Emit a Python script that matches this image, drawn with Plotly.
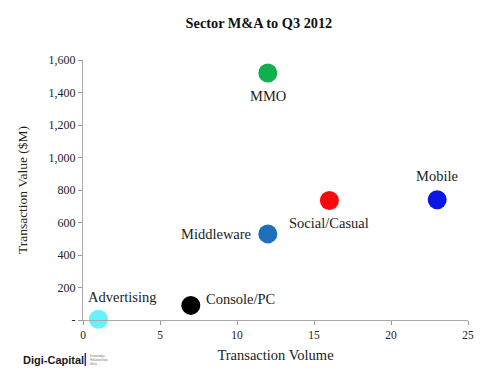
import plotly.graph_objects as go

sectors = ["MMO", "Mobile", "Social/Casual", "Middleware", "Console/PC", "Advertising"]
volume = [12, 23, 16, 12, 7, 1]
value = [1520, 740, 735, 530, 90, 5]
colors = ["#12b04c", "#0b16e6", "#f80a0a", "#1f6fbd", "#000000", "#66f2f8"]
label_pos = ["bottom center", "top center", "bottom center2", "middle left", "middle right", "top right"]

x_ticks = [0, 5, 10, 15, 20, 25]
y_ticks = [0, 200, 400, 600, 800, 1000, 1200, 1400, 1600]
y_tick_text = ["-", "200", "400", "600", "800", "1,000", "1,200", "1,400", "1,600"]

serif = "Liberation Serif"

fig = go.Figure()
fig.add_trace(go.Scatter(
    x=volume, y=value, mode="markers",
    marker=dict(size=19, color=colors, line=dict(width=0)),
    showlegend=False, cliponaxis=False, hoverinfo="skip",
))

offsets = {
    "bottom center": dict(xshift=0, yshift=-23, xanchor="center"),
    "bottom center2": dict(xshift=0, yshift=-22, xanchor="center"),
    "top center": dict(xshift=0, yshift=24, xanchor="center"),
    "middle left": dict(xshift=-15, yshift=0, xanchor="right"),
    "middle right": dict(xshift=13, yshift=6, xanchor="left"),
    "top right": dict(xshift=-12, yshift=22, xanchor="left"),
}
for s, xv, yv, p in zip(sectors, volume, value, label_pos):
    o = offsets[p]
    fig.add_annotation(x=xv, y=yv, xref="x", yref="y", text=s, showarrow=False,
                       xshift=o["xshift"], yshift=o["yshift"], xanchor=o["xanchor"],
                       yanchor="middle", font=dict(family=serif, size=14.5, color="#222"))

# Digi-Capital logo text
fig.add_annotation(xref="paper", yref="paper", x=-0.16, y=-0.154, xanchor="left", yanchor="middle",
                   text="<b>Digi-Capital</b>", showarrow=False,
                   font=dict(family="Liberation Sans", size=11, color="#1a1a1a"))
fig.add_shape(type="line", xref="paper", yref="paper", x0=0.006, x1=0.006, y0=-0.177, y1=-0.127,
              line=dict(color="#2a2ad0", width=1.5))
fig.add_annotation(xref="paper", yref="paper", x=0.012, y=-0.152, xanchor="left", yanchor="middle",
                   text="Knowledge<br>Relationships<br>Ideas", showarrow=False, align="left",
                   font=dict(family="Liberation Sans", size=3, color="#777"))

fig.update_layout(
    width=492, height=367,
    margin=dict(l=75, r=32, t=52, b=55),
    paper_bgcolor="white", plot_bgcolor="white",
    title=dict(text="<b>Sector M&A to Q3 2012</b>", x=0.51, y=0.96, xanchor="center", yanchor="middle",
               font=dict(family=serif, size=14.3, color="#111")),
    xaxis=dict(range=[0, 25], tickvals=x_ticks, ticks="outside", ticklen=4, tickcolor="#999",
               showline=True, linecolor="#aaa", showgrid=False, zeroline=False, automargin=False,
               tickfont=dict(family=serif, size=11.5, color="#222"),
               title=dict(text="Transaction Volume", font=dict(family=serif, size=14.5, color="#222"), standoff=10)),
    yaxis=dict(range=[0, 1600], tickvals=y_ticks, ticktext=y_tick_text, ticks="outside", ticklen=4,
               tickcolor="#999", showline=True, linecolor="#aaa", showgrid=False, zeroline=False, automargin=False,
               tickfont=dict(family=serif, size=12, color="#222"),
               title=dict(text="Transaction Value ($M)", font=dict(family=serif, size=13.5, color="#222"), standoff=17)),
)

fig.write_html("out.html")
